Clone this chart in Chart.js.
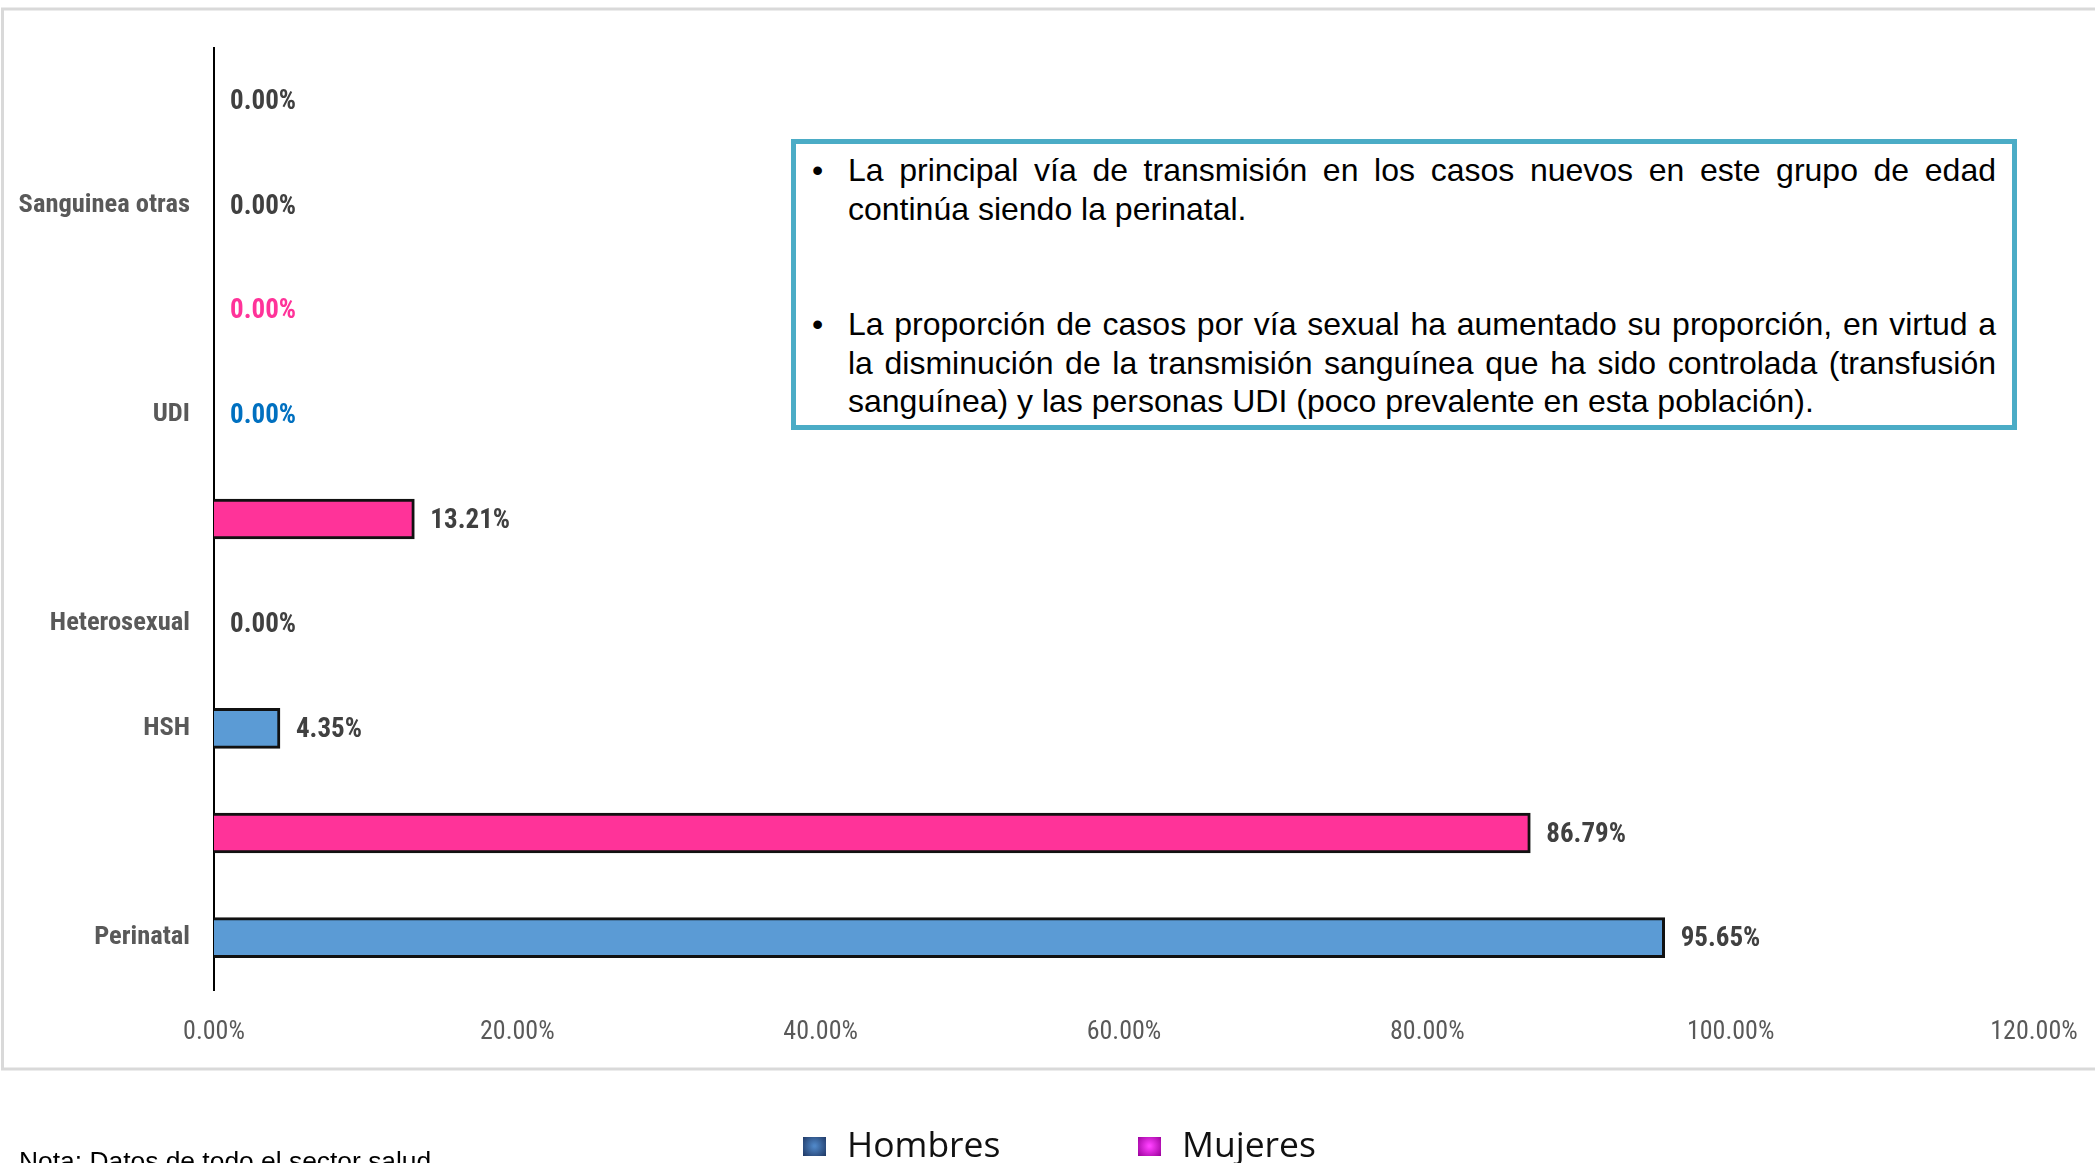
<!DOCTYPE html>
<html>
<head>
<meta charset="utf-8">
<script src="https://cdn.jsdelivr.net/npm/chart.js@4.4.0/dist/chart.umd.min.js"></script>
<style>
  html, body { margin: 0; padding: 0; background: #fff; overflow: hidden; }
  #wrap { position: absolute; left: 0; top: 0; width: 2095px; height: 1163px; }
  #note {
    position: absolute; left: 791px; top: 139px; width: 1226px; height: 291px;
    box-sizing: border-box; border: 5px solid #4BACC6; background: #fff;
    font-family: "Liberation Sans", Arial, sans-serif; font-size: 32px; line-height: 38.5px; color: #000;
    padding: 7px 16px 0 52px; z-index: 2;
  }
  .p { position: relative; }
  .p::before { content: "\2022"; position: absolute; left: -36px; top: 0; }
  .p2 { margin-top: 77px; }
  .j { text-align: justify; text-align-last: justify; white-space: nowrap; }
  .l { text-align: left; white-space: nowrap; }
</style>
</head>
<body>
<div id="wrap"><canvas id="c"></canvas></div>
<div id="note">
  <div class="p">
    <div class="j">La principal vía de transmisión en los casos nuevos en este grupo de edad</div>
    <div class="l">continúa siendo la perinatal.</div>
  </div>
  <div class="p p2">
    <div class="j">La proporción de casos por vía sexual ha aumentado su proporción, en virtud a</div>
    <div class="j">la disminución de la transmisión sanguínea que ha sido controlada (transfusión</div>
    <div class="l">sanguínea) y las personas UDI (poco prevalente en esta población).</div>
  </div>
</div>
<script>
// ---- data ----
const categories = ['', 'Sanguinea otras', '', 'UDI', '', 'Heterosexual', 'HSH', '', 'Perinatal'];
const values = [0, 0, 0, 0, 13.21, 0, 4.35, 86.79, 95.65];
const sexo = ['Mujeres', 'Hombres', 'Mujeres', 'Hombres', 'Mujeres', 'Hombres', 'Hombres', 'Mujeres', 'Hombres'];
const seriesNames = ['Hombres', 'Mujeres'];
const xTicks = [0, 20, 40, 60, 80, 100, 120];
const noteText = 'Nota: Datos de todo el sector salud';

// ---- styles ----
const NARROW = '"Liberation Sans Narrow", "Roboto Condensed", "Arial Narrow", sans-serif';
const barColor = { Hombres: '#5B9BD5', Mujeres: '#FF3399' };
const valueLabelColors = ['#404040', '#404040', '#FF3399', '#0070C0', '#404040', '#404040', '#404040', '#404040', '#404040'];

const framePlugin = {
  id: 'frame',
  beforeDraw(chart) {
    const ctx = chart.ctx;
    ctx.save();
    ctx.strokeStyle = '#D9D9D9';
    ctx.lineWidth = 3;
    ctx.strokeRect(2.5, 9, 2200, 1060);
    ctx.restore();
  }
};

const valueLabels = {
  id: 'valueLabels',
  afterDatasetsDraw(chart) {
    const ctx = chart.ctx;
    const meta = chart.getDatasetMeta(0);
    ctx.save();
    ctx.font = 'bold 27px ' + NARROW;
    ctx.textBaseline = 'middle';
    ctx.textAlign = 'left';
    meta.data.forEach((bar, i) => {
      ctx.fillStyle = valueLabelColors[i];
      ctx.fillText(values[i].toFixed(2) + '%', bar.x + 16, bar.y + 2);
    });
    ctx.restore();
  }
};

const legendPlugin = {
  id: 'customLegend',
  afterDraw(chart) {
    const ctx = chart.ctx;
    ctx.save();
    const items = [
      { name: seriesNames[0], bx: 803, tx: 847, c1: '#4F86C6', c2: '#1F3864' },
      { name: seriesNames[1], bx: 1138, tx: 1182, c1: '#FF40FF', c2: '#9A009A' }
    ];
    items.forEach(it => {
      const g = ctx.createRadialGradient(it.bx + 11.5, 1146, 1, it.bx + 11.5, 1146, 15);
      g.addColorStop(0, it.c1);
      g.addColorStop(1, it.c2);
      ctx.fillStyle = g;
      ctx.fillRect(it.bx, 1137, 23, 19);
      ctx.fillStyle = '#111';
      ctx.font = '35.5px "Open Sans", sans-serif';
      ctx.textBaseline = 'alphabetic';
      ctx.fillText(it.name, it.tx, 1157);
    });
    ctx.fillStyle = '#000';
    ctx.font = '26.4px "Liberation Sans", Arial, sans-serif';
    ctx.fillText(noteText, 19, 1170);
    ctx.restore();
  }
};

new Chart(document.getElementById('c'), {
  type: 'bar',
  data: {
    labels: categories,
    datasets: [{
      data: values,
      backgroundColor: sexo.map(s => barColor[s]),
      borderColor: '#111',
      borderWidth: 3,
      borderSkipped: 'start',
      barThickness: 40
    }]
  },
  options: {
    indexAxis: 'y',
    responsive: true,
    maintainAspectRatio: false,
    animation: false,
    layout: { padding: { top: 48, right: 61, bottom: 113, left: 0 } },
    plugins: { legend: { display: false }, tooltip: { enabled: false } },
    scales: {
      x: {
        min: 0, max: 120,
        afterBuildTicks: s => { s.ticks = xTicks.map(v => ({ value: v })); },
        grid: { display: false, drawTicks: true, tickLength: 25 },
        border: { display: false },
        ticks: {
          padding: 2, color: '#595959', maxRotation: 0, autoSkip: false,
          font: { family: NARROW, size: 26 },
          callback: v => Number(v).toFixed(2) + '%'
        },
        afterFit: s => { s.height = 60; }
      },
      y: {
        grid: { display: true, color: 'rgba(0,0,0,0)', drawTicks: false },
        border: { display: true, color: '#000', width: 2 },
        ticks: {
          autoSkip: false, padding: 24, color: '#595959',
          font: { family: NARROW, size: 26.5, weight: 'bold' }
        },
        afterFit: s => { s.width = 214; }
      }
    }
  },
  plugins: [framePlugin, valueLabels, legendPlugin]
});
</script>
</body>
</html>
